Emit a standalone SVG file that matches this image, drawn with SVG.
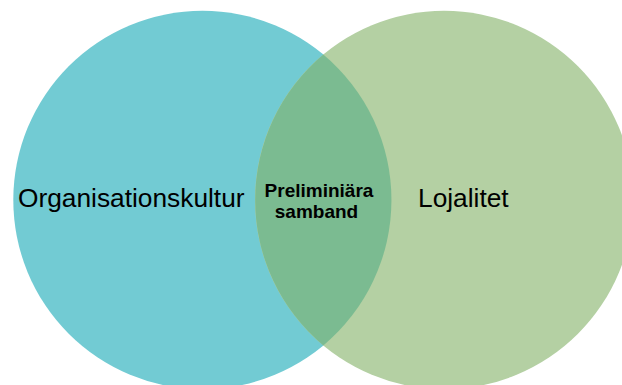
<svg xmlns="http://www.w3.org/2000/svg" width="622" height="385" viewBox="0 0 622 385">
<style>
.lbl{font-family:"Liberation Sans",Arial,sans-serif;fill:#000;}
.big{font-size:26.3px;}
.small{font-size:19px;font-weight:bold;}
</style>
<rect width="622" height="385" fill="#ffffff"/>
<g id="node-organisationskultur">
<circle cx="202.5" cy="200" r="189.2" fill="#72CBD3"/>
<text class="lbl big" x="18" y="207">Organisationskultur</text>
</g>
<g id="node-lojalitet">
<circle cx="444.2" cy="200" r="189.2" fill="#B4D0A3"/>
<text class="lbl big" x="418" y="207">Lojalitet</text>
</g>
<g id="node-samband">
<path d="M323.3,54.6 A189.2,189.2 0 0 1 323.3,345.4 A189.2,189.2 0 0 1 323.3,54.6 Z" fill="#7BBB91"/>
<text class="lbl small" x="319" y="197" text-anchor="middle">Preliminiära</text>
<text class="lbl small" x="316.5" y="218" text-anchor="middle">samband</text>
</g>
<g id="connectors"></g>
</svg>
